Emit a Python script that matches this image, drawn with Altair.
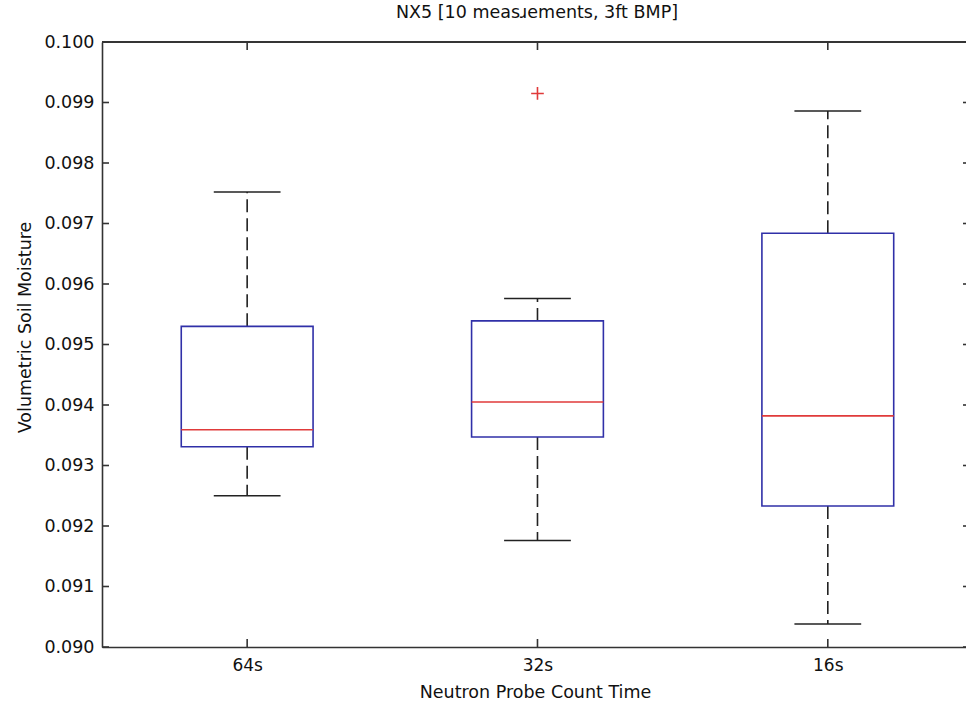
import altair as alt
import pandas as pd

# ---------------- data ----------------
categories = ["64s", "32s", "16s"]
positions = [1, 2, 3]
lower_whisker = [0.09250, 0.09176, 0.09038]
q1 = [0.09331, 0.09347, 0.09233]
median = [0.09359, 0.09405, 0.09382]
q3 = [0.09530, 0.09539, 0.09684]
upper_whisker = [0.09752, 0.09576, 0.09886]

outlier_category = ["32s"]
outlier_position = [2]
outlier_value = [0.09915]

y_tick_values = [0.090, 0.091, 0.092, 0.093, 0.094, 0.095,
                 0.096, 0.097, 0.098, 0.099, 0.100]

TITLE = "NX5 [10 measɹements, 3ft BMP]"
X_TITLE = "Neutron Probe Count Time"
Y_TITLE = "Volumetric Soil Moisture"

# ---------------- styling ----------------
W, H = 864, 605
BOX_HALF = 0.227
CAP_HALF = 0.115
X_DOMAIN = [0.5, 3.476]
Y_DOMAIN = [0.090, 0.100]
FONT = "DejaVu Sans"
BOX_COLOR = "#3030a8"
MED_COLOR = "#e03a3a"
LINE_COLOR = "#222222"
AXIS_COLOR = "#333333"
LW = 1.6

boxes = pd.DataFrame({
    "cat": categories,
    "pos": positions,
    "lo": lower_whisker,
    "q1": q1,
    "med": median,
    "q3": q3,
    "hi": upper_whisker,
})
boxes["bx1"] = boxes["pos"] - BOX_HALF
boxes["bx2"] = boxes["pos"] + BOX_HALF
boxes["cx1"] = boxes["pos"] - CAP_HALF
boxes["cx2"] = boxes["pos"] + CAP_HALF

outliers = pd.DataFrame({"cat": outlier_category, "pos": outlier_position,
                         "val": outlier_value})
yticks = pd.DataFrame({"v": y_tick_values})
xticks = pd.DataFrame({"pos": positions})
titles = pd.DataFrame({"t": [TITLE]})

xscale = alt.Scale(domain=X_DOMAIN, nice=False, zero=False)
yscale = alt.Scale(domain=Y_DOMAIN, nice=False, zero=False)

label_expr = " : ".join(
    [f"datum.value == {p} ? '{c}'" for p, c in zip(positions, categories)]
) + " : ''"

x_axis = alt.Axis(
    values=positions, labelExpr=label_expr, title=X_TITLE,
    grid=False, tickSize=0, labelPadding=10,
    domainColor=AXIS_COLOR, domainWidth=LW,
    labelFont=FONT, labelFontSize=17, labelColor="#111",
    titleFont=FONT, titleFontSize=17.5, titleFontWeight="normal", titleColor="#111",
    titleX=W / 2 + 1, titleY=50, titleBaseline="alphabetic", titleAlign="center",
)
y_axis = alt.Axis(
    values=y_tick_values, format=".3f", title=Y_TITLE,
    grid=False, tickSize=0, labelPadding=8,
    domainColor=AXIS_COLOR, domainWidth=LW,
    labelFont=FONT, labelFontSize=17.5, labelColor="#111",
    titleFont=FONT, titleFontSize=17.5, titleFontWeight="normal", titleColor="#111",
    titleAngle=270, titleX=-72, titleY=285, titleBaseline="alphabetic",
    titleAlign="center",
)


def X(field):
    return alt.X(field, scale=xscale, axis=x_axis)


def Y(field):
    return alt.Y(field, scale=yscale, axis=y_axis)


base = alt.Chart(boxes)

whisker_up = base.mark_rule(color=LINE_COLOR, strokeWidth=LW, strokeDash=[13, 6]).encode(
    x=X("pos:Q"), y=Y("q3:Q"), y2="hi:Q",
)
whisker_lo = base.mark_rule(color=LINE_COLOR, strokeWidth=LW, strokeDash=[13, 6]).encode(
    x=X("pos:Q"), y=Y("q1:Q"), y2="lo:Q",
)
cap_hi = base.mark_rule(color=LINE_COLOR, strokeWidth=LW).encode(
    x=X("cx1:Q"), x2="cx2:Q", y=Y("hi:Q"),
)
cap_lo = base.mark_rule(color=LINE_COLOR, strokeWidth=LW).encode(
    x=X("cx1:Q"), x2="cx2:Q", y=Y("lo:Q"),
)
box = base.mark_rect(fill="white", stroke=BOX_COLOR, strokeWidth=LW).encode(
    x=X("bx1:Q"), x2="bx2:Q", y=Y("q1:Q"), y2="q3:Q",
)
med = base.mark_rule(color=MED_COLOR, strokeWidth=LW).encode(
    x=X("bx1:Q"), x2="bx2:Q", y=Y("med:Q"),
)
outl = alt.Chart(outliers).mark_point(
    shape="M-1,0L1,0M0,-1L0,1", filled=False, color=MED_COLOR,
    strokeWidth=LW, size=160, opacity=1,
).encode(
    x=X("pos:Q"), y=Y("val:Q"),
)

# inward-pointing frame ticks (MATLAB style)
ytick_left = alt.Chart(yticks).mark_rule(color=AXIS_COLOR, strokeWidth=LW).encode(
    y=Y("v:Q"), x=alt.value(0), x2=alt.value(7),
)
ytick_right = alt.Chart(yticks).mark_rule(color=AXIS_COLOR, strokeWidth=LW).encode(
    y=Y("v:Q"), x=alt.value(W - 3), x2=alt.value(W),
)
xtick_bottom = alt.Chart(xticks).mark_rule(color=AXIS_COLOR, strokeWidth=LW).encode(
    x=X("pos:Q"), y=alt.value(H), y2=alt.value(H - 8),
)
xtick_top = alt.Chart(xticks).mark_rule(color=AXIS_COLOR, strokeWidth=LW).encode(
    x=X("pos:Q"), y=alt.value(0), y2=alt.value(8),
)
top_line = alt.Chart(xticks).mark_rule(color=AXIS_COLOR, strokeWidth=LW).encode(
    x=alt.value(0), x2=alt.value(W), y=alt.value(0),
)
title_text = alt.Chart(titles).mark_text(
    font=FONT, fontSize=17.5, color="#111", align="center", baseline="alphabetic",
).encode(
    text="t:N", x=alt.value(W / 2 + 3), y=alt.value(-24),
)

chart = alt.layer(
    whisker_up, whisker_lo, cap_hi, cap_lo, box, med, outl,
    ytick_left, ytick_right, xtick_bottom, xtick_top, top_line, title_text,
).properties(
    width=W, height=H,
    padding={"left": 102, "top": 42, "right": 0, "bottom": 60},
    autosize=alt.AutoSizeParams(type="none"),
    background="white",
).configure_view(stroke="transparent")

chart.save("out.html", embed_options={"renderer": "svg", "actions": False})
